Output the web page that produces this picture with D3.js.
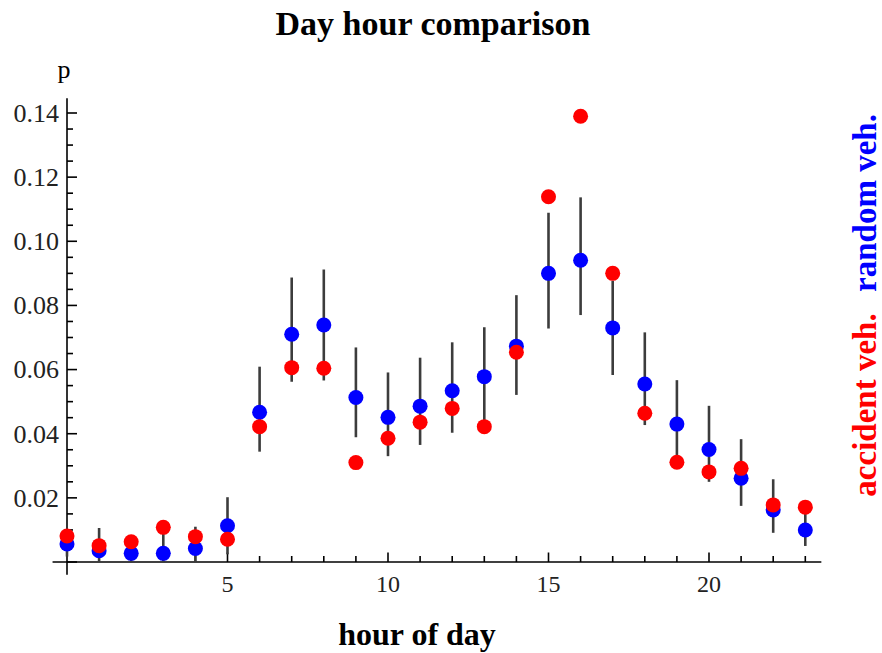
<!DOCTYPE html>
<html>
<head>
<meta charset="utf-8">
<script src="https://cdn.jsdelivr.net/npm/d3@7"></script>
<style>
  html, body { margin: 0; padding: 0; background: #fff; }
  svg { display: block; }
  text { font-family: "Liberation Serif", "Times New Roman", serif; }
</style>
</head>
<body>
<svg id="chart" width="882" height="653"></svg>
<script>
// ---- data ----
const hours = [0,1,2,3,4,5,6,7,8,9,10,11,12,13,14,15,16,17,18,19,20,21,22,23];
const accidentVeh = [0.0081,0.0051,0.0063,0.0108,0.0079,0.0071,0.0422,0.0606,0.0604,0.0310,0.0386,0.0436,
                     0.0479,0.0422,0.0654,0.1139,0.1390,0.0900,0.0464,0.0311,0.0281,0.0292,0.0178,0.0171];
const randomVeh   = [0.0056,0.0035,0.0027,0.0027,0.0042,0.0113,0.0467,0.0710,0.0739,0.0513,0.0451,0.0486,
                     0.0534,0.0578,0.0673,0.0900,0.0941,0.0730,0.0555,0.0430,0.0351,0.0261,0.0162,0.0100];
const barHigh     = [0.0095,0.0106,0.0075,0.0102,0.0110,0.0202,0.0609,0.0887,0.0912,0.0669,0.0591,0.0637,
                     0.0685,0.0732,0.0832,0.1089,0.1137,0.0877,0.0716,0.0567,0.0487,0.0383,0.0258,0.0150];
const barLow      = [0.0017,0.0000,0.0000,0.0000,0.0000,0.0024,0.0344,0.0562,0.0566,0.0389,0.0330,0.0365,
                     0.0403,0.0424,0.0521,0.0728,0.0770,0.0583,0.0427,0.0293,0.0250,0.0175,0.0091,0.0050];
const xMajorTicks = [5,10,15,20];
const yMajorTicks = [0.02,0.04,0.06,0.08,0.10,0.12,0.14];
const titleText = "Day hour comparison";
const xLabel = "hour of day";
const yLabel = "p";
const seriesNames = ["random veh.", "accident veh."];

// ---- scales ----
const svg = d3.select("#chart");
const x = d3.scaleLinear().domain([0, 23]).range([67, 805.3]);
const y = d3.scaleLinear().domain([0, 0.14]).range([562, 113]);

// ---- axes ----
const axisG = svg.append("g").attr("stroke", "#000").attr("stroke-width", 1.6);
// x axis line
axisG.append("line")
  .attr("x1", x(-0.45)).attr("x2", x(23.5))
  .attr("y1", y(0)).attr("y2", y(0));
// y axis line
axisG.append("line")
  .attr("x1", x(0)).attr("x2", x(0))
  .attr("y1", y(-0.004)).attr("y2", y(0.1446));

// x ticks (pointing up)
const xTicks = d3.range(1, 24);
axisG.selectAll(".xt").data(xTicks).enter().append("line")
  .attr("x1", d => x(d)).attr("x2", d => x(d))
  .attr("y1", y(0))
  .attr("y2", d => y(0) - (xMajorTicks.includes(d) ? 9.5 : 6));

// y ticks (pointing right)
const yTicks = d3.range(0, 29).map(i => +(i * 0.005).toFixed(3));
axisG.selectAll(".yt").data(yTicks).enter().append("line")
  .attr("y1", d => y(d)).attr("y2", d => y(d))
  .attr("x1", x(0))
  .attr("x2", d => x(0) + ((Math.round(d * 1000) % 20 === 0) ? 10 : 6));

// tick labels
svg.selectAll(".xl").data(xMajorTicks).enter().append("text")
  .attr("x", d => x(d)).attr("y", 592)
  .attr("text-anchor", "middle")
  .attr("font-size", 24).attr("fill", "#222")
  .text(d => d);

svg.selectAll(".yl").data(yMajorTicks).enter().append("text")
  .attr("x", 59).attr("y", d => y(d))
  .attr("dy", "0.34em")
  .attr("text-anchor", "end")
  .attr("font-size", 26).attr("fill", "#222")
  .text(d => d3.format(".2f")(d));

// ---- error bars ----
svg.append("g").selectAll("line").data(hours).enter().append("line")
  .attr("x1", d => x(d)).attr("x2", d => x(d))
  .attr("y1", (d, i) => y(barLow[i])).attr("y2", (d, i) => y(barHigh[i]))
  .attr("stroke", "#3c3c3c").attr("stroke-width", 2.6);

// ---- points ----
svg.append("g").selectAll("circle").data(hours).enter().append("circle")
  .attr("cx", d => x(d)).attr("cy", (d, i) => y(randomVeh[i]))
  .attr("r", 7.5).attr("fill", "#0000ff");
svg.append("g").selectAll("circle").data(hours).enter().append("circle")
  .attr("cx", d => x(d)).attr("cy", (d, i) => y(accidentVeh[i]))
  .attr("r", 7.5).attr("fill", "#ff0000");

// ---- titles ----
svg.append("text").attr("x", 433).attr("y", 35)
  .attr("text-anchor", "middle").attr("font-size", 34).attr("font-weight", "bold")
  .attr("fill", "#000").text(titleText);
svg.append("text").attr("x", 417).attr("y", 645)
  .attr("text-anchor", "middle").attr("font-size", 32).attr("font-weight", "bold")
  .attr("fill", "#000").text(xLabel);
svg.append("text").attr("x", 64).attr("y", 78)
  .attr("text-anchor", "middle").attr("font-size", 26)
  .attr("fill", "#000").text(yLabel);

// ---- rotated legend labels on the right ----
svg.append("text")
  .attr("transform", "translate(876,203) rotate(-90)")
  .attr("text-anchor", "middle").attr("font-size", 33).attr("font-weight", "bold")
  .attr("fill", "#0000ff").text(seriesNames[0]);
svg.append("text")
  .attr("transform", "translate(876,405) rotate(-90)")
  .attr("text-anchor", "middle").attr("font-size", 33).attr("font-weight", "bold")
  .attr("fill", "#ff0000").text(seriesNames[1]);
</script>
</body>
</html>
